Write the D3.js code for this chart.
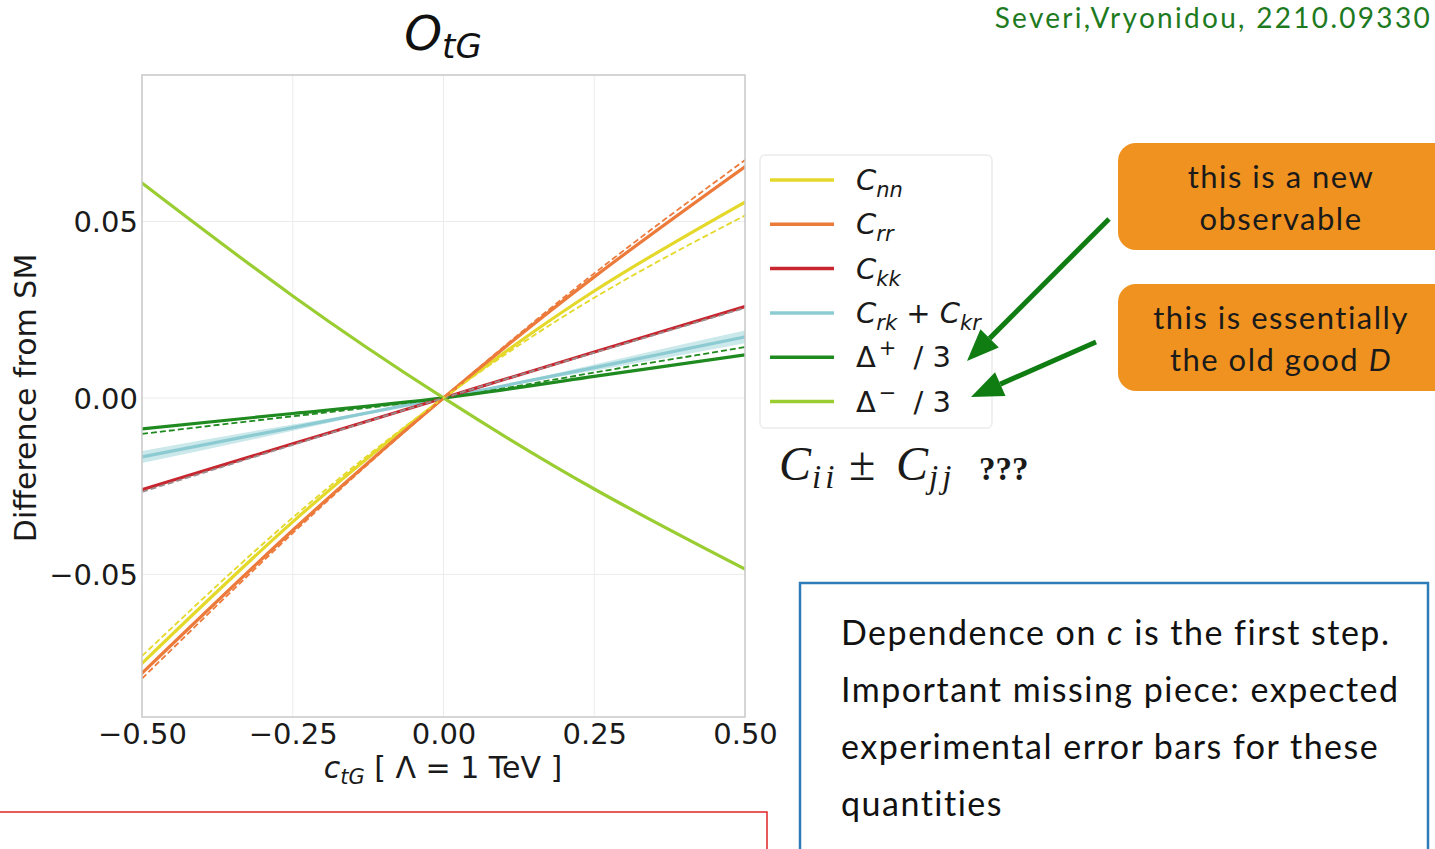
<!DOCTYPE html>
<html>
<head>
<meta charset="utf-8">
<script src="https://cdn.jsdelivr.net/npm/d3@7"></script>
<style>
  html, body { margin: 0; padding: 0; background: #fff; }
  svg { display: block; }
</style>
</head>
<body>
<svg id="chart" width="1435" height="849"></svg>
<script>
// Wilson coefficient values (x axis) at which each curve is sampled
const cValues = [-0.5, -0.25, 0, 0.25, 0.5];

// Difference from SM, full prediction (solid) and linear-only (dashed)
const cnn       = [-0.0752, -0.0351, 0, 0.0303, 0.0555];
const cnnLin    = [-0.0731, -0.0339, 0, 0.0284, 0.0517];
const crr       = [-0.0780, -0.0375, 0, 0.0343, 0.0655];
const crrLin    = [-0.0795, -0.0383, 0, 0.0353, 0.0674];
const ckk       = [-0.0260, -0.0130, 0, 0.0130, 0.0259];
const ckkLin    = [-0.0266, -0.0133, 0, 0.0128, 0.0255];
const crk       = [-0.0167, -0.0084, 0, 0.0086, 0.0173];
const crkLow    = [-0.0184, -0.0093, 0, 0.0077, 0.0155];
const crkHigh   = [-0.0150, -0.0075, 0, 0.0095, 0.0191];
const dPlus     = [-0.0088, -0.0044, 0, 0.0061, 0.0122];
const dPlusLin  = [-0.0102, -0.0052, 0, 0.0072, 0.0144];
const dMinus    = [ 0.0609,  0.0289, 0, -0.0258, -0.0485];

const xTicks = [-0.5, -0.25, 0, 0.25, 0.5];
const yTicks = [-0.05, 0, 0.05];

const svg = d3.select("#chart");

const plot = { left: 142, right: 745, top: 75, bottom: 717 };
const x = d3.scaleLinear().domain([-0.5, 0.5]).range([plot.left, plot.right]);
const y = d3.scaleLinear().domain([-0.0904, 0.0915]).range([plot.bottom, plot.top]);

const mathFont = "'DejaVu Sans', sans-serif";
const slideFont = "Lato, 'Open Sans', sans-serif";

// ---- title and reference ----
const title = svg.append("text")
  .attr("x", 443).attr("y", 50)
  .attr("text-anchor", "middle")
  .attr("font-family", mathFont).attr("font-style", "italic")
  .attr("font-size", 48).attr("fill", "#111");
title.append("tspan").text("O");
title.append("tspan").attr("font-size", 34).attr("dy", 8).text("tG");

svg.append("text")
  .attr("x", 1432).attr("y", 28)
  .attr("text-anchor", "end")
  .attr("font-family", slideFont)
  .attr("font-size", 28).attr("letter-spacing", 2.3).attr("fill", "#1e7a1e")
  .text("Severi,Vryonidou, 2210.09330");

// ---- plot frame and grid ----
const g = svg.append("g");
g.append("rect")
  .attr("x", plot.left).attr("y", plot.top)
  .attr("width", plot.right - plot.left).attr("height", plot.bottom - plot.top)
  .attr("fill", "#fff");

g.selectAll("line.vgrid").data(xTicks.slice(1, -1)).join("line")
  .attr("x1", d => x(d)).attr("x2", d => x(d))
  .attr("y1", plot.top).attr("y2", plot.bottom)
  .attr("stroke", "#ececec").attr("stroke-width", 1);
g.selectAll("line.hgrid").data(yTicks).join("line")
  .attr("x1", plot.left).attr("x2", plot.right)
  .attr("y1", d => y(d)).attr("y2", d => y(d))
  .attr("stroke", "#ececec").attr("stroke-width", 1);

// axes (tick labels only, frame drawn separately)
const fmtX = d => (d < 0 ? "\u2212" : "") + Math.abs(d).toFixed(2);
const xAxis = d3.axisBottom(x).tickValues(xTicks).tickFormat(fmtX).tickSize(0).tickPadding(6);
const yAxis = d3.axisLeft(y).tickValues(yTicks).tickFormat(fmtX).tickSize(0).tickPadding(4);

const gx = svg.append("g").attr("transform", `translate(0,${plot.bottom})`).call(xAxis);
const gy = svg.append("g").attr("transform", `translate(${plot.left},0)`).call(yAxis);
[gx, gy].forEach(a => {
  a.select(".domain").remove();
  a.selectAll("text").attr("font-family", mathFont).attr("font-size", 29).attr("fill", "#1a1a1a");
});
gx.selectAll("text").attr("dy", "0.71em");
gy.selectAll("text").attr("dy", "0.36em");

// axis titles
svg.append("text")
  .attr("transform", `translate(36,${y(0)}) rotate(-90)`)
  .attr("text-anchor", "middle")
  .attr("font-family", mathFont).attr("font-size", 30).attr("fill", "#1a1a1a")
  .text("Difference from SM");

const xl = svg.append("text")
  .attr("x", 443).attr("y", 778)
  .attr("text-anchor", "middle")
  .attr("font-family", mathFont).attr("font-size", 30).attr("fill", "#1a1a1a");
xl.append("tspan").attr("font-style", "italic").text("c");
xl.append("tspan").attr("font-style", "italic").attr("font-size", 21).attr("dy", 6).text("tG");
xl.append("tspan").attr("dy", -6).text(" [ \u039B = 1 TeV ]");

// ---- curves ----
const clip = svg.append("defs").append("clipPath").attr("id", "plotclip");
clip.append("rect").attr("x", plot.left).attr("y", plot.top)
  .attr("width", plot.right - plot.left).attr("height", plot.bottom - plot.top);

const curves = svg.append("g").attr("clip-path", "url(#plotclip)");
const line = d3.line().x((d, i) => x(cValues[i])).y(d => y(d)).curve(d3.curveNatural);
const area = d3.area()
  .x((d, i) => x(cValues[i]))
  .y0((d, i) => y(crkLow[i])).y1((d, i) => y(crkHigh[i]))
  .curve(d3.curveNatural);

const colors = {
  cnn: "#e4d92a", crr: "#ec7a3b", ckk: "#c8262e",
  crk: "#8ccbd2", dPlus: "#1f8a1f", dMinus: "#9acd32"
};

curves.append("path").attr("d", area(crk)).attr("fill", colors.crk).attr("opacity", 0.45);

const solid = [
  [crk, colors.crk], [dPlus, colors.dPlus], [ckk, colors.ckk],
  [cnn, colors.cnn], [crr, colors.crr], [dMinus, colors.dMinus]
];
const dashed = [
  [dPlusLin, colors.dPlus], [ckkLin, "#9a8c8c"], [cnnLin, colors.cnn], [crrLin, colors.crr]
];

solid.forEach(([vals, c]) => {
  curves.append("path").attr("d", line(vals))
    .attr("fill", "none").attr("stroke", c).attr("stroke-width", 3.2)
    .attr("stroke-linecap", "round");
});
dashed.forEach(([vals, c]) => {
  curves.append("path").attr("d", line(vals))
    .attr("fill", "none").attr("stroke", c).attr("stroke-width", 1.8)
    .attr("stroke-dasharray", "6,3");
});

// frame
svg.append("rect")
  .attr("x", plot.left).attr("y", plot.top)
  .attr("width", plot.right - plot.left).attr("height", plot.bottom - plot.top)
  .attr("fill", "none").attr("stroke", "#c8c8c8").attr("stroke-width", 1.5);

// ---- legend ----
// part kinds: 0 italic, 1 italic subscript, 2 plain operator, 3 plain, 4 superscript, 5 tail
const legendItems = [
  { c: colors.cnn, parts: [["C", 0], ["nn", 1]] },
  { c: colors.crr, parts: [["C", 0], ["rr", 1]] },
  { c: colors.ckk, parts: [["C", 0], ["kk", 1]] },
  { c: colors.crk, parts: [["C", 0], ["rk", 1], [" + ", 2], ["C", 0], ["kr", 1]] },
  { c: colors.dPlus, parts: [["\u0394", 3], ["+", 4], ["/ 3", 5]] },
  { c: colors.dMinus, parts: [["\u0394", 3], ["\u2212", 4], ["/ 3", 5]] }
];

svg.append("rect")
  .attr("x", 760).attr("y", 155).attr("width", 232).attr("height", 273)
  .attr("rx", 5).attr("fill", "#fff").attr("stroke", "#ececec").attr("stroke-width", 1.5);

const leg = svg.append("g");
legendItems.forEach((it, i) => {
  const yy = 180 + i * 44.3;
  leg.append("line").attr("x1", 770).attr("x2", 834).attr("y1", yy).attr("y2", yy)
    .attr("stroke", it.c).attr("stroke-width", 3.5);
  const t = leg.append("text").attr("x", 856).attr("y", yy + 10)
    .attr("font-family", mathFont).attr("font-size", 29).attr("fill", "#1a1a1a");
  let shift = 0;
  it.parts.forEach(([s, kind]) => {
    const sp = t.append("tspan").text(s);
    let target = 0;
    if (kind === 0) { sp.attr("font-style", "italic"); }
    if (kind === 1) { sp.attr("font-style", "italic").attr("font-size", 21); target = 7; }
    if (kind === 4) { sp.attr("font-size", 21).attr("dx", 3); target = -12; }
    if (kind === 5) { sp.attr("dx", 17); }
    sp.attr("dy", target - shift);
    shift = target;
  });
});

// C_ii ± C_jj ???
const serif = "'Liberation Serif', 'DejaVu Serif', serif";
const cij = svg.append("text").attr("y", 480)
  .attr("font-family", serif).attr("font-size", 48).attr("fill", "#1a1a1a");
cij.append("tspan").attr("x", 779).attr("font-style", "italic").text("C");
cij.append("tspan").attr("x", 812).attr("font-style", "italic").attr("font-size", 33)
  .attr("letter-spacing", 4).attr("dy", 8).text("ii");
cij.append("tspan").attr("x", 849).attr("dy", -8).text("\u00B1");
cij.append("tspan").attr("x", 896).attr("font-style", "italic").text("C");
cij.append("tspan").attr("x", 929).attr("font-style", "italic").attr("font-size", 33)
  .attr("letter-spacing", 4).attr("dy", 8).text("jj");
cij.append("tspan").attr("x", 979).attr("dy", -8).attr("font-weight", "bold").attr("font-size", 33).text("???");

// ---- callout boxes ----
const boxFill = "#f0921f";
const boxes = [
  { y: 143, lines: [["this is a new"], ["observable"]] },
  { y: 284, lines: [["this is essentially"], ["the old good ", "D"]] }
];
boxes.forEach(b => {
  svg.append("rect").attr("x", 1118).attr("y", b.y).attr("width", 340).attr("height", 107)
    .attr("rx", 18).attr("fill", boxFill);
  b.lines.forEach((ln, j) => {
    const t = svg.append("text").attr("x", 1281).attr("y", b.y + 45 + j * 42)
      .attr("text-anchor", "middle")
      .attr("font-family", slideFont).attr("font-size", 31).attr("letter-spacing", 1.5)
      .attr("fill", "#1a1a1a");
    t.append("tspan").text(ln[0]);
    if (ln[1]) t.append("tspan").attr("font-style", "italic").text(ln[1]);
  });
});

// arrows pointing at the Δ entries
const arrowColor = "#0f7d12";
function arrow(x1, y1, x2, y2) {
  const ang = Math.atan2(y2 - y1, x2 - x1);
  const headLen = 32, headHalf = 13;
  const bx = x2 - headLen * Math.cos(ang), by = y2 - headLen * Math.sin(ang);
  svg.append("line").attr("x1", x1).attr("y1", y1).attr("x2", bx).attr("y2", by)
    .attr("stroke", arrowColor).attr("stroke-width", 5);
  const px = -Math.sin(ang) * headHalf, py = Math.cos(ang) * headHalf;
  svg.append("path")
    .attr("d", `M${x2},${y2}L${bx + px},${by + py}L${bx - px},${by - py}Z`)
    .attr("fill", arrowColor);
}
arrow(1109, 219, 967, 361);
arrow(1096, 342, 971, 397);

// ---- bottom notes ----
svg.append("rect").attr("x", -5).attr("y", 812).attr("width", 772).attr("height", 60)
  .attr("fill", "none").attr("stroke", "#e02525").attr("stroke-width", 1.5);

svg.append("rect").attr("x", 800).attr("y", 583).attr("width", 628).attr("height", 290)
  .attr("fill", "#fff").attr("stroke", "#2d7cb8").attr("stroke-width", 2.5);

const noteLines = [
  [["Dependence on ", 0], ["c", 1], [" is the first step.", 0]],
  [["Important missing piece: expected", 0]],
  [["experimental error bars for these", 0]],
  [["quantities", 0]]
];
noteLines.forEach((ln, i) => {
  const t = svg.append("text").attr("x", 841).attr("y", 645 + i * 57)
    .attr("font-family", slideFont).attr("font-size", 34).attr("letter-spacing", 1.5)
    .attr("fill", "#111");
  ln.forEach(([s, it]) => {
    const sp = t.append("tspan").text(s);
    if (it) sp.attr("font-style", "italic");
  });
});
</script>
</body>
</html>
